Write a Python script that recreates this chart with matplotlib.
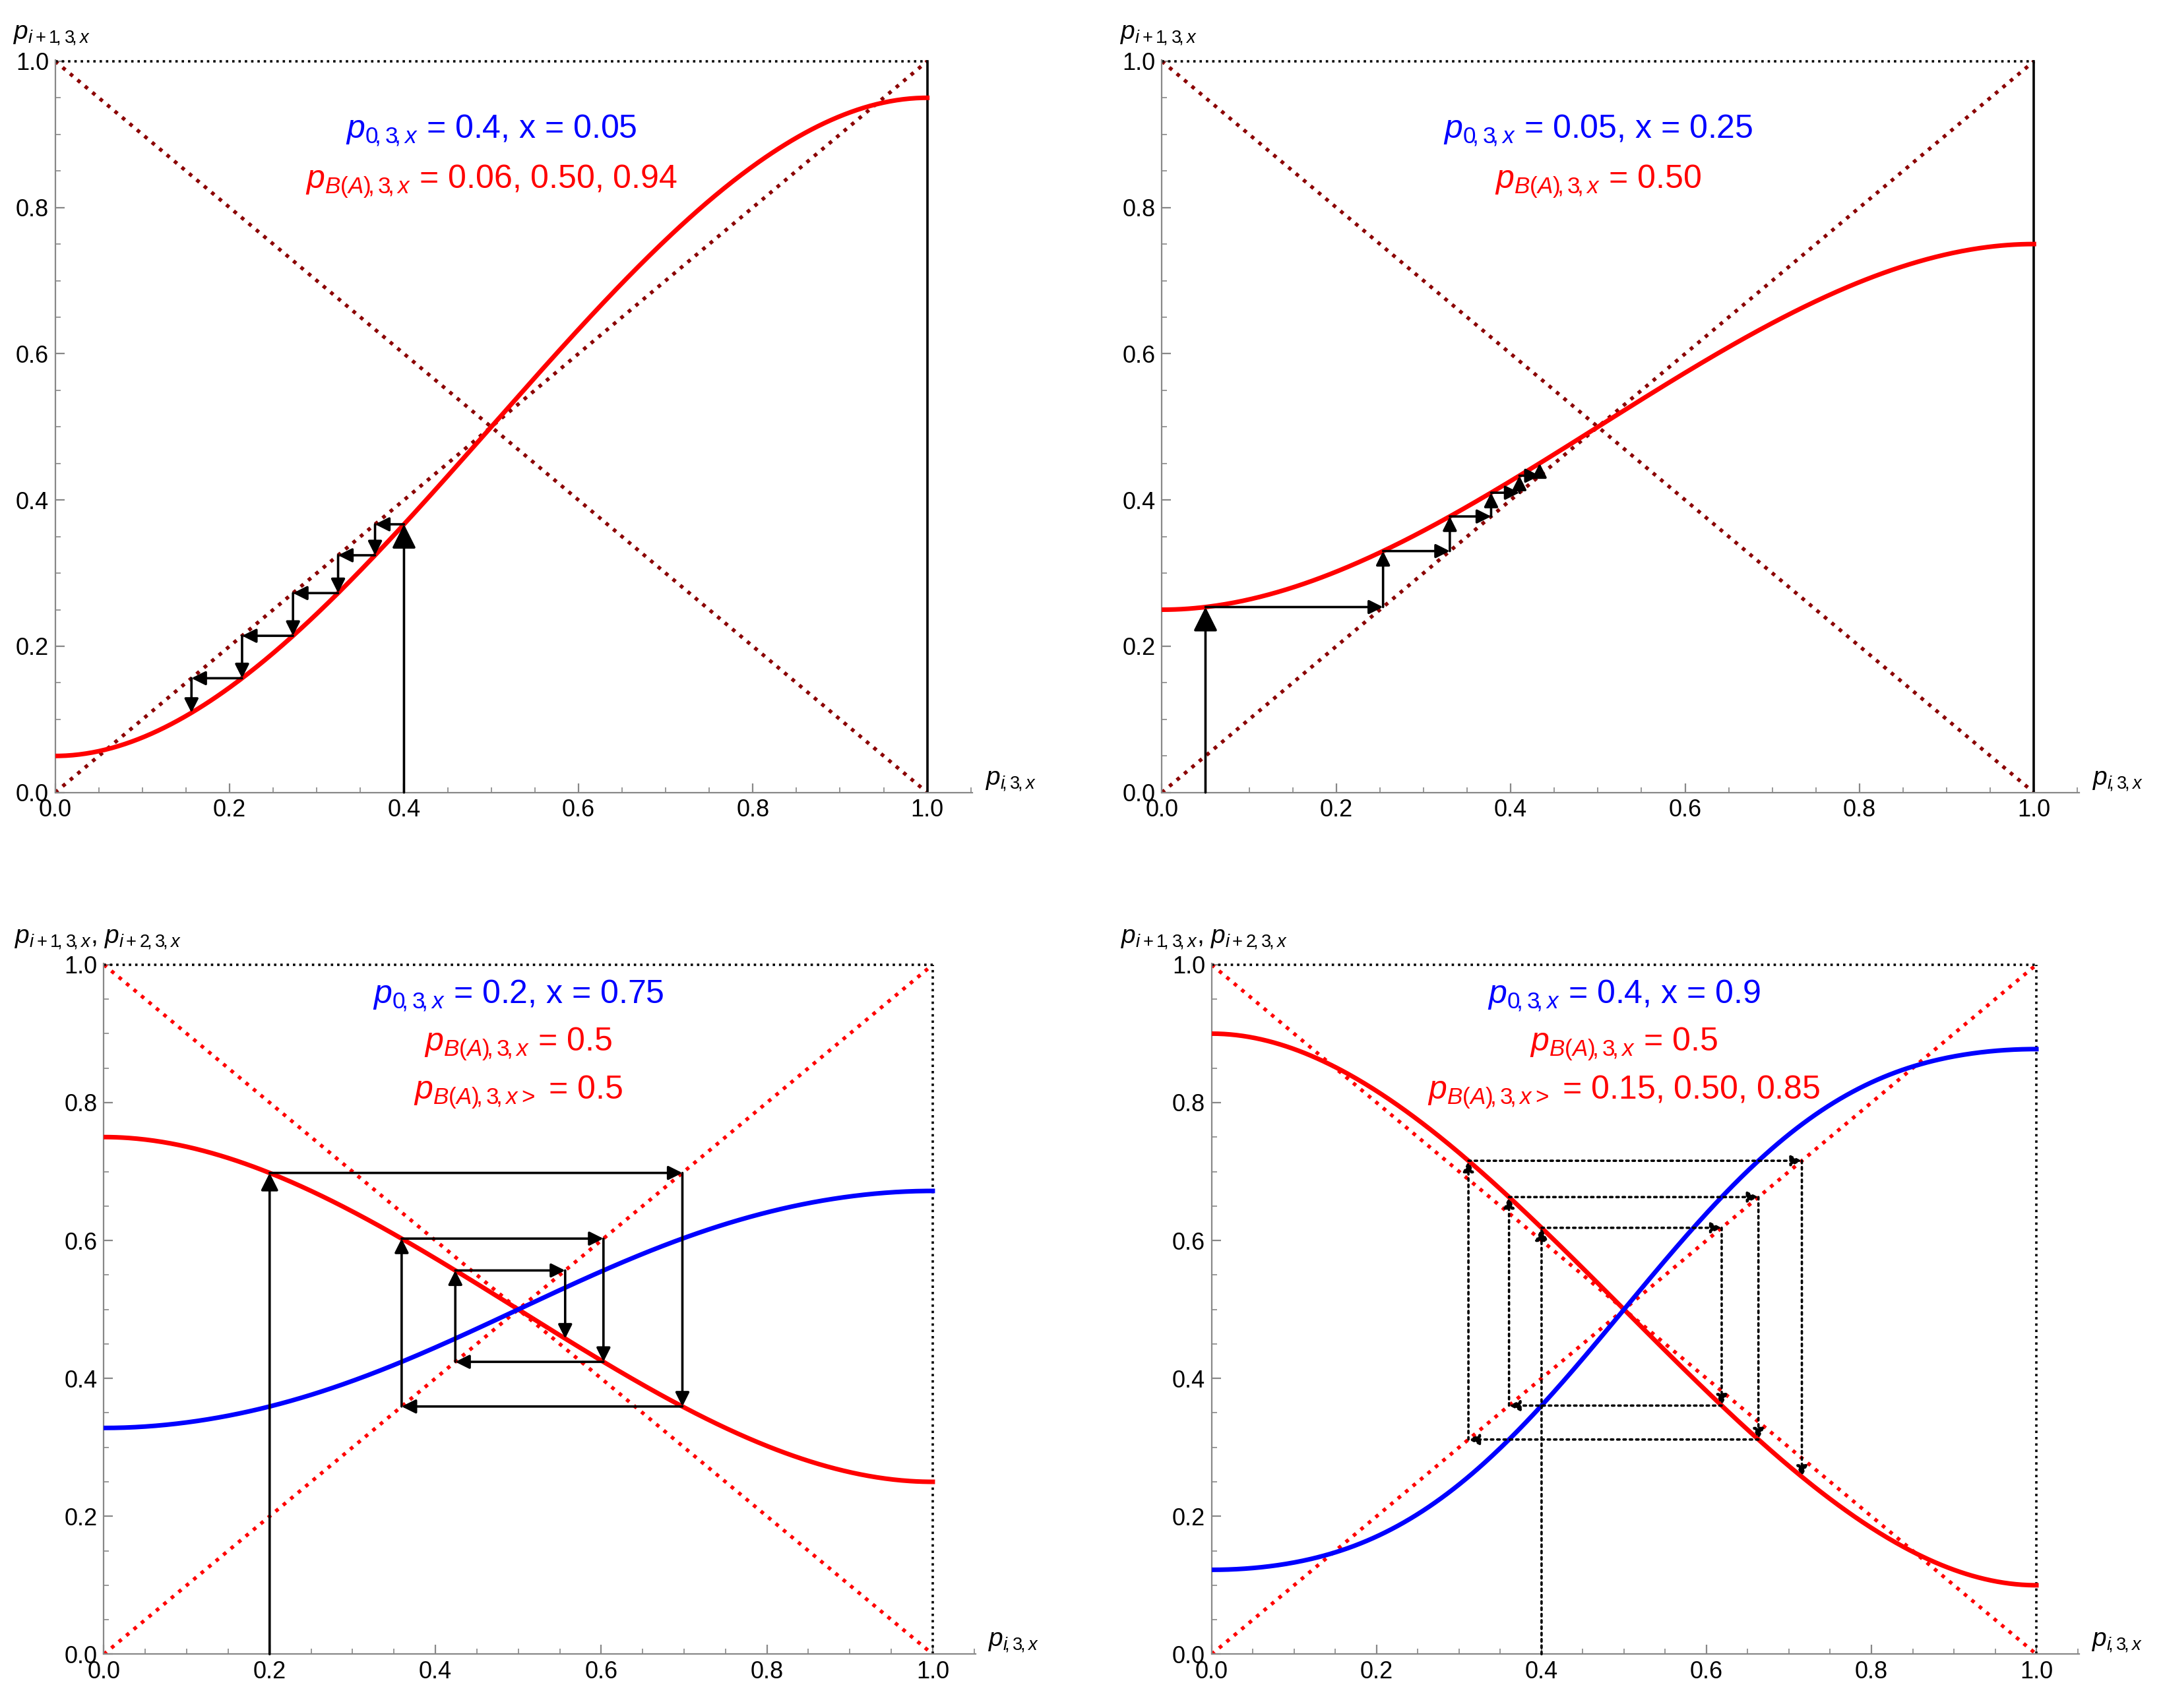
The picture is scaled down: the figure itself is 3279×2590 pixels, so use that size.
import numpy as np
import matplotlib
matplotlib.use("Agg")
import matplotlib.pyplot as plt

plt.rcParams['font.family'] = 'Liberation Sans'
plt.rcParams['mathtext.fontset'] = 'custom'
plt.rcParams['mathtext.rm'] = 'Liberation Sans'
plt.rcParams['mathtext.it'] = 'Liberation Sans:italic'

# panel parameters
x_vals = [0.05, 0.25, 0.75, 0.9]
p0_vals = [0.4, 0.05, 0.2, 0.4]
n_steps = [5, 5, 5, 5]
ticks = [0.0, 0.2, 0.4, 0.6, 0.8, 1.0]
tick_labels = ["0.0", "0.2", "0.4", "0.6", "0.8", "1.0"]
texts = [
    [(r"$p_{0\!,3\!,x}$ = 0.4, x = 0.05", 'blue'), (r"$p_{B(A)\!,3\!,x}$ = 0.06, 0.50, 0.94", 'red')],
    [(r"$p_{0\!,3\!,x}$ = 0.05, x = 0.25", 'blue'), (r"$p_{B(A)\!,3\!,x}$ = 0.50", 'red')],
    [(r"$p_{0\!,3\!,x}$ = 0.2, x = 0.75", 'blue'), (r"$p_{B(A)\!,3\!,x}$ = 0.5", 'red'), (r"$p_{B(A)\!,3\!,x>}$ = 0.5", 'red')],
    [(r"$p_{0\!,3\!,x}$ = 0.4, x = 0.9", 'blue'), (r"$p_{B(A)\!,3\!,x}$ = 0.5", 'red'), (r"$p_{B(A)\!,3\!,x>}$ = 0.15, 0.50, 0.85", 'red')],
]
ylabels = [r"$p_{i+1\!,3\!,x}$", r"$p_{i+1\!,3\!,x}$",
           r"$p_{i+1\!,3\!,x}$, $p_{i+2\!,3\!,x}$", r"$p_{i+1\!,3\!,x}$, $p_{i+2\!,3\!,x}$"]
rects = [[0.0255, 0.536, 0.424, 0.429], [0.537, 0.536, 0.424, 0.429],
         [0.048, 0.0315, 0.403, 0.4045], [0.56, 0.0315, 0.401, 0.4045]]
ylab_x = [-0.048, -0.048, -0.108, -0.11]

def f(p, x):
    return x + (1 - 2 * x) * (3 * p**2 - 2 * p**3)

fig = plt.figure(figsize=(16.4, 12.95), dpi=200)
pp = np.linspace(0, 1, 400)
for k in range(4):
    ax = fig.add_axes(rects[k])
    x = x_vals[k]
    bottom = k >= 2
    dcol = 'red' if bottom else '#8b0000'
    ax.plot([0, 1], [0, 1], ls=':', color=dcol, lw=2)
    ax.plot([0, 1], [1, 0], ls=':', color=dcol, lw=2)
    ax.plot([0, 1], [1, 1], ls=':', color='black', lw=1.3)
    if bottom:
        ax.plot([1, 1], [0, 1], ls=':', color='black', lw=1.3)
    else:
        ax.plot([1, 1], [0, 1], ls='-', color='black', lw=1.3)
    ax.plot(pp, f(pp, x), color='red', lw=2.5, zorder=5)
    if bottom:
        ax.plot(pp, f(f(pp, x), x), color='blue', lw=2.5, zorder=5)
    # cobweb
    ls = ':' if k == 3 else '-'
    lw = 1.3
    def arr(a, b, ms):
        ax.annotate('', xy=b, xytext=a, zorder=6,
                    arrowprops=dict(arrowstyle='-|>', lw=lw, ls=ls, color='black',
                                    mutation_scale=ms, shrinkA=0, shrinkB=0))
    p = p0_vals[k]
    q = f(p, x)
    arr((p, 0), (p, q), 28 if k < 2 else (20 if k == 2 else 14))
    for i in range(n_steps[k]):
        ms = 16 if k < 3 else 12
        arr((p, q), (q, q), ms)
        p = q
        q = f(p, x)
        arr((p, p), (p, q), ms)
    ax.set_xlim(0, 1.052)
    ax.set_ylim(0, 1.002)
    for s in ['top', 'right']:
        ax.spines[s].set_visible(False)
    ax.spines['left'].set_color('#888888')
    ax.spines['bottom'].set_color('#888888')
    ax.set_xticks(ticks)
    ax.set_xticklabels(tick_labels)
    ax.set_yticks(ticks)
    ax.set_yticklabels(tick_labels)
    ax.tick_params(labelsize=13, color='#888888', direction='in', length=5)
    ax.minorticks_on()
    ax.tick_params(which='minor', direction='in', length=3, color='#888888')
    ax.text(1.067, 0.0, r"$p_{i\!,3\!,x}$", transform=ax.transData, fontsize=14,
            ha='left', va='bottom', clip_on=False)
    ax.text(ylab_x[k], 1.02, ylabels[k], transform=ax.transData, fontsize=14,
            ha='left', va='bottom', clip_on=False)
    for j, (t, c) in enumerate(texts[k]):
        y0 = 0.905 if not bottom else 0.955
        ax.text(0.5, y0 - j * 0.07, t, color=c, fontsize=18, ha='center', va='center')

fig.savefig("out.png", dpi=200)
